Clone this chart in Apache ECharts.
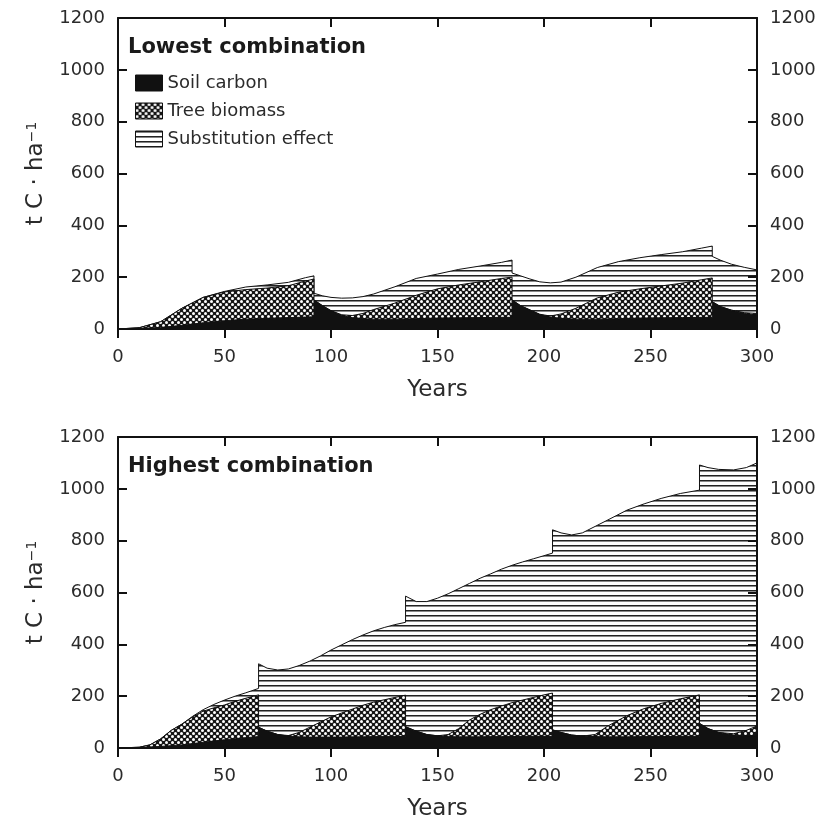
<!DOCTYPE html>
<html>
<head>
<meta charset="utf-8">
<script src="https://cdn.jsdelivr.net/npm/echarts@6/dist/echarts.min.js"></script>
<style>
html, body { margin: 0; padding: 0; background: #fff; }
#main { width: 822px; height: 823px; }
</style>
</head>
<body>
<div id="main"></div>
<script>
// Lowest combination (rotation ~93 yr)
var yearsLow = [0,10,20,30,40,50,60,70,80,88,92,
    92,96,100,105,110,115,120,130,140,150,160,170,180,185,
    185,189,193,198,203,208,215,225,235,245,255,265,274,279,
    279,283,288,294,300];
var soilLow = [0,2,6,14,24,32,38,41,44,46,47,
    112,90,70,52,44,40,38,38,40,42,43,44,45,45,
    112,90,75,56,46,41,38,38,40,42,43,44,45,45,
    105,86,72,60,54];
var treeLow = [0,3,22,66,98,111,114,117,123,139,146,
    0,0,1,3,8,20,37,62,90,113,127,138,150,155,
    0,0,0,1,4,17,42,82,102,113,123,133,145,152,
    0,0,1,3,6];
var substLow = [0,0,0,0,0,2,10,12,13,13,12,
    26,38,51,64,68,65,60,63,65,57,60,61,62,66,
    104,115,119,125,128,123,120,117,118,120,121,121,122,123,
    175,179,177,175,168];

// Highest combination (rotation ~68 yr)
var yearsHigh = [0,10,15,20,25,30,35,40,45,50,55,60,66,
    66,70,75,80,85,90,95,100,105,110,115,120,125,130,135,
    135,140,145,150,155,160,165,170,175,180,185,190,195,200,204,
    204,208,213,218,224,230,239,247,255,264,273,
    273,277,282,289,295,300];
var soilHigh = [0,2,4,6,9,12,17,22,27,32,36,40,44,
    80,65,52,46,43,42,42,42,42,43,43,44,44,44,45,
    82,65,52,47,44,43,43,43,44,44,44,45,45,45,45,
    70,60,50,46,44,43,43,44,44,45,45,
    95,75,60,50,48,48];
var treeHigh = [0,1,8,29,59,80,103,120,128,134,144,152,161,
    0,0,0,2,17,38,58,78,93,107,122,133,142,151,159,
    0,0,0,0,8,32,65,87,104,118,131,140,150,160,167,
    0,0,0,0,8,42,82,108,128,145,160,
    0,0,0,5,20,37];
var substHigh = [0,0,0,0,0,0,2,6,13,19,20,21,25,
    245,243,249,257,258,255,255,258,263,268,271,275,279,281,281,
    504,500,513,531,543,540,527,525,524,528,530,533,535,537,540,
    772,770,772,784,803,795,793,790,791,792,790,
    997,1007,1015,1018,1014,1015];

var seriesNames = ['Soil carbon', 'Tree biomass', 'Substitution effect'];
var panelTitles = ['Lowest combination', 'Highest combination'];

var FONT = 'DejaVu Sans';
var INK = '#111';
var TXT = '#2b2b2b';

// fill patterns
function makeDots() {
    var c = document.createElement('canvas');
    c.width = 6; c.height = 6;
    var ctx = c.getContext('2d');
    ctx.fillStyle = '#151515';
    ctx.fillRect(0, 0, 6, 6);
    ctx.fillStyle = '#fff';
    [[1.5, 1.5], [4.5, 4.5]].forEach(function (p) {
        ctx.beginPath();
        ctx.arc(p[0], p[1], 1.5, 0, Math.PI * 2);
        ctx.fill();
    });
    return { image: c, repeat: 'repeat' };
}
function makeLines() {
    var c = document.createElement('canvas');
    c.width = 8; c.height = 5;
    var ctx = c.getContext('2d');
    ctx.fillStyle = '#fff';
    ctx.fillRect(0, 0, 8, 5);
    ctx.fillStyle = '#222';
    ctx.fillRect(0, 0, 8, 1);
    ctx.fillStyle = '#8a8a8a';
    ctx.fillRect(0, 1, 8, 1);
    return { image: c, repeat: 'repeat' };
}
var dotsFill = makeDots();
var linesFill = makeLines();

// cumulative tops of the stacked layers
function tops(years, layers) {
    var run = years.map(function () { return 0; });
    return layers.map(function (arr) {
        return years.map(function (x, i) {
            run[i] += arr[i];
            return [x, run[i]];
        });
    });
}

function panelSeries(idx, years, soil, tree, subst) {
    var t = tops(years, [soil, tree, subst]);
    var fills = [INK, dotsFill, linesFill];
    var out = [];
    for (var k = 2; k >= 0; k--) {
        out.push({
            name: seriesNames[k],
            type: 'line',
            xAxisIndex: idx * 2,
            yAxisIndex: idx * 2,
            data: t[k],
            showSymbol: false,
            symbol: 'none',
            z: 5 - k,
            lineStyle: { color: INK, width: 1 },
            itemStyle: { color: fills[k] },
            areaStyle: { color: fills[k], opacity: 1 },
            emphasis: { disabled: true },
            animation: false
        });
    }
    return out;
}

var plain = function (v) { return String(v); };

var gridTops = [18, 437];
var grids = gridTops.map(function (t) {
    return { left: 118, top: t, width: 639, height: 311 };
});

var xAxes = [], yAxes = [];
gridTops.forEach(function (t, i) {
    var lineStyle = { color: INK, width: 2 };
    xAxes.push({
        gridIndex: i, type: 'value', position: 'bottom', min: 0, max: 300, interval: 50, z: 10,
        axisLine: { onZero: false, lineStyle: lineStyle },
        axisTick: { length: 9, lineStyle: lineStyle },
        axisLabel: { fontFamily: FONT, fontSize: 18, color: TXT, margin: 19, formatter: plain },
        splitLine: { show: false },
        name: 'Years', nameLocation: 'middle', nameGap: 50,
        nameTextStyle: { fontFamily: FONT, fontSize: 23, color: TXT }
    });
    xAxes.push({
        gridIndex: i, type: 'value', position: 'top', min: 0, max: 300, interval: 50, z: 10,
        axisLine: { show: true, onZero: false, lineStyle: lineStyle },
        axisTick: { show: true, inside: true, length: 9, lineStyle: lineStyle },
        axisLabel: { show: false },
        splitLine: { show: false }
    });
    yAxes.push({
        gridIndex: i, type: 'value', position: 'left', min: 0, max: 1200, interval: 200, z: 10,
        axisLine: { show: true, onZero: false, lineStyle: lineStyle },
        axisTick: { show: true, inside: true, length: 9, lineStyle: lineStyle },
        axisLabel: { fontFamily: FONT, fontSize: 18, color: TXT, margin: 13, formatter: plain },
        splitLine: { show: false },
        name: 't C \u00b7 ha{s|\u22121}', nameLocation: 'middle', nameGap: 70, nameRotate: 90,
        nameTextStyle: {
            fontFamily: FONT, fontSize: 23, color: TXT,
            rich: { s: { fontFamily: FONT, fontSize: 14, color: TXT, verticalAlign: 'top' } }
        }
    });
    yAxes.push({
        gridIndex: i, type: 'value', position: 'right', min: 0, max: 1200, interval: 200, z: 10,
        axisLine: { show: true, onZero: false, lineStyle: lineStyle },
        axisTick: { show: true, inside: true, length: 9, lineStyle: lineStyle },
        axisLabel: { fontFamily: FONT, fontSize: 18, color: TXT, margin: 13, formatter: plain },
        splitLine: { show: false }
    });
});

var chart = echarts.init(document.getElementById('main'), null, { renderer: 'canvas' });
chart.setOption({
    animation: false,
    backgroundColor: '#fff',
    grid: grids,
    xAxis: xAxes,
    yAxis: yAxes,
    legend: {
        orient: 'vertical', left: 135, top: 74, padding: 0,
        itemWidth: 27, itemHeight: 16, itemGap: 10, icon: 'rect',
        selectedMode: false,
        textStyle: { fontFamily: FONT, fontSize: 18, color: TXT },
        data: [
            { name: seriesNames[0], itemStyle: { color: INK, borderColor: INK, borderWidth: 1 } },
            { name: seriesNames[1], itemStyle: { color: dotsFill, borderColor: INK, borderWidth: 1 } },
            { name: seriesNames[2], itemStyle: { color: linesFill, borderColor: INK, borderWidth: 1 } }
        ]
    },
    graphic: panelTitles.map(function (s, i) {
        return {
            type: 'text', left: 128, top: gridTops[i] + 19, z: 20,
            style: { text: s, fontFamily: FONT, fontWeight: 'bold', fontSize: 21, fill: '#1a1a1a' }
        };
    }),
    series: panelSeries(0, yearsLow, soilLow, treeLow, substLow)
        .concat(panelSeries(1, yearsHigh, soilHigh, treeHigh, substHigh))
});
</script>
</body>
</html>
